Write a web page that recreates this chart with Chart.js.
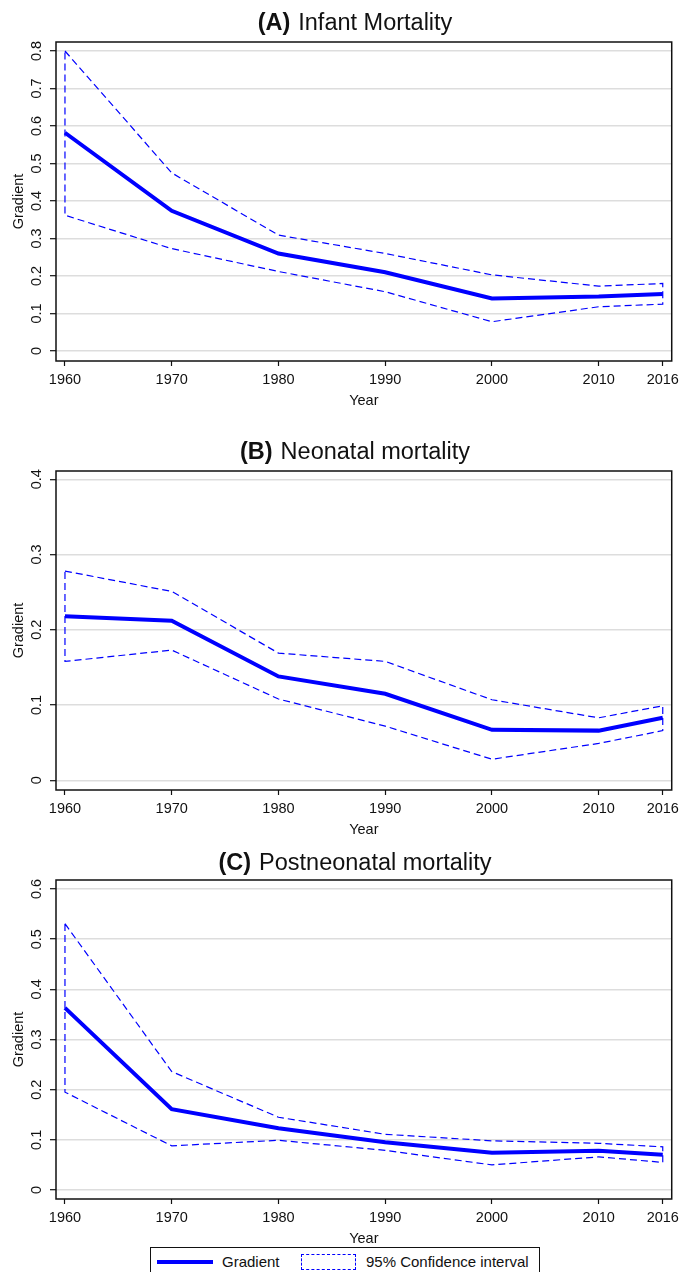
<!DOCTYPE html>
<html>
<head>
<meta charset="utf-8">
<script src="https://cdn.jsdelivr.net/npm/chart.js@4.4.1/dist/chart.umd.min.js"></script>
<style>
  body { margin: 0; background: #fff; width: 684px; height: 1272px; overflow: hidden; position: relative; }
  canvas { position: absolute; left: 0; }
  #legend { position: absolute; left: 150px; top: 1247px; width: 388px; height: 40px; border: 1.3px solid #111;
            background: #fff; font: 15px "Liberation Sans", Arial, sans-serif; color: #111; }
  #legend .line { position: absolute; left: 6px; top: 12px; width: 56px; height: 4px; background: #0000ff; }
  #legend .box { position: absolute; left: 150px; top: 6px; width: 53px; height: 14px; border: 1.5px dashed #0000ff; }
  #legend span.t { position: absolute; top: 5px; }
</style>
</head>
<body>
<canvas id="cA" width="684" height="420" style="top:0px"></canvas>
<canvas id="cB" width="684" height="420" style="top:429px"></canvas>
<canvas id="cC" width="684" height="420" style="top:838px"></canvas>
<div id="legend">
  <div class="line"></div><span class="t" style="left:71px">Gradient</span>
  <div class="box"></div><span class="t" style="left:215px">95% Confidence interval</span>
</div>
<script>
// data
const years = [1960, 1970, 1980, 1990, 2000, 2010, 2016];
const xTicks = [1960, 1970, 1980, 1990, 2000, 2010, 2016];

const infantGrad  = [0.582, 0.374, 0.260, 0.210, 0.140, 0.145, 0.152];
const infantUpper = [0.800, 0.475, 0.309, 0.260, 0.203, 0.173, 0.180];
const infantLower = [0.362, 0.273, 0.212, 0.158, 0.078, 0.118, 0.125];
const infantTicks = [0, 0.1, 0.2, 0.3, 0.4, 0.5, 0.6, 0.7, 0.8];

const neoGrad  = [0.218, 0.212, 0.138, 0.115, 0.067, 0.066, 0.083];
const neoUpper = [0.278, 0.251, 0.169, 0.158, 0.107, 0.083, 0.099];
const neoLower = [0.158, 0.173, 0.108, 0.072, 0.028, 0.049, 0.066];
const neoTicks = [0, 0.1, 0.2, 0.3, 0.4];

const postGrad  = [0.363, 0.161, 0.123, 0.095, 0.074, 0.078, 0.070];
const postUpper = [0.531, 0.236, 0.145, 0.111, 0.098, 0.093, 0.086];
const postLower = [0.195, 0.088, 0.099, 0.079, 0.050, 0.066, 0.055];
const postTicks = [0, 0.1, 0.2, 0.3, 0.4, 0.5, 0.6];

const FONT = '"Liberation Sans", Arial, sans-serif';
const INK = '#111';
const BLUE = '#0000ff';

// closed outline: upper band forward, lower band back
function ciOutline(upper, lower) {
  const pts = years.map((x, i) => ({x, y: upper[i]}));
  for (let i = years.length - 1; i >= 0; i--) pts.push({x: years[i], y: lower[i]});
  pts.push(pts[0]);
  return pts;
}

const panelDecor = {
  id: 'panelDecor',
  afterDraw(chart, args, opts) {
    const {ctx, chartArea: a} = chart;
    ctx.save();
    ctx.strokeStyle = INK;
    ctx.lineWidth = 1.5;
    ctx.strokeRect(a.left, a.top, a.right - a.left, a.bottom - a.top);

    // rotated y tick labels
    const ys = chart.scales.y;
    ctx.fillStyle = INK;
    ctx.font = '14.5px ' + FONT;
    ctx.textAlign = 'center';
    ctx.textBaseline = 'middle';
    ys.ticks.forEach(t => {
      ctx.save();
      ctx.translate(37, ys.getPixelForValue(t.value));
      ctx.rotate(-Math.PI / 2);
      ctx.fillText(String(t.value), 0, 0);
      ctx.restore();
    });

    // title: bold tag + plain text
    const bold = 'bold 23.5px ' + FONT, plain = '23.5px ' + FONT;
    ctx.font = bold;
    const w1 = ctx.measureText(opts.tag).width;
    ctx.font = plain;
    const w2 = ctx.measureText(opts.text).width;
    const gap = 8;
    let x = 355 - (w1 + gap + w2) / 2;
    ctx.textAlign = 'left';
    ctx.textBaseline = 'alphabetic';
    ctx.font = bold;
    ctx.fillText(opts.tag, x, opts.base);
    ctx.font = plain;
    ctx.fillText(opts.text, x + w1 + gap, opts.base);
    ctx.restore();
  }
};

function makePanel(id, tag, text, base, grad, upper, lower, ticks, yMin, yMax) {
  return new Chart(document.getElementById(id), {
    type: 'line',
    data: {
      datasets: [
        {
          label: 'Gradient',
          data: years.map((x, i) => ({x, y: grad[i]})),
          borderColor: BLUE,
          borderWidth: 4,
          pointRadius: 0,
          tension: 0
        },
        {
          label: '95% Confidence interval',
          data: ciOutline(upper, lower),
          borderColor: BLUE,
          borderWidth: 1.2,
          borderDash: [7, 4],
          pointRadius: 0,
          tension: 0,
          fill: false
        }
      ]
    },
    options: {
      responsive: false,
      animation: false,
      devicePixelRatio: 1,
      layout: {padding: {top: 42, right: 8, left: 0, bottom: 0}},
      plugins: {
        legend: {display: false},
        tooltip: {enabled: false},
        panelDecor: {tag, text, base}
      },
      scales: {
        x: {
          type: 'linear',
          min: 1959.16,
          max: 2016.84,
          afterBuildTicks: s => { s.ticks = xTicks.map(v => ({value: v})); },
          afterFit: s => { s.height = 59; },
          ticks: {
            color: INK,
            font: {family: FONT, size: 14.5, lineHeight: 1.2},
            padding: 5,
            maxRotation: 0,
            callback: v => String(v)
          },
          grid: {drawOnChartArea: false, drawTicks: true, tickLength: 5, tickColor: INK, tickWidth: 1.2},
          border: {display: false},
          title: {
            display: true,
            text: 'Year',
            color: INK,
            font: {family: FONT, size: 14.5, lineHeight: 1.2},
            padding: {top: 0, bottom: 10.5}
          }
        },
        y: {
          type: 'linear',
          min: yMin,
          max: yMax,
          afterBuildTicks: s => { s.ticks = ticks.map(v => ({value: v})); },
          afterFit: s => { s.width = 56; },
          ticks: {display: false},
          grid: {color: '#dddddd', lineWidth: 1.4, drawTicks: true, tickLength: 6, tickColor: INK, tickWidth: 1.2},
          border: {display: false},
          title: {
            display: true,
            text: 'Gradient',
            color: INK,
            font: {family: FONT, size: 14.5, lineHeight: 1.2},
            padding: {top: 10.3, bottom: 0}
          }
        }
      }
    },
    plugins: [panelDecor]
  });
}

makePanel('cA', '(A)', 'Infant Mortality', 30, infantGrad, infantUpper, infantLower, infantTicks, -0.0267, 0.824);
makePanel('cB', '(B)', 'Neonatal mortality', 29.5, neoGrad, neoUpper, neoLower, neoTicks, -0.0129, 0.411);
makePanel('cC', '(C)', 'Postneonatal mortality', 32, postGrad, postUpper, postLower, postTicks, -0.018, 0.618);
</script>
</body>
</html>
